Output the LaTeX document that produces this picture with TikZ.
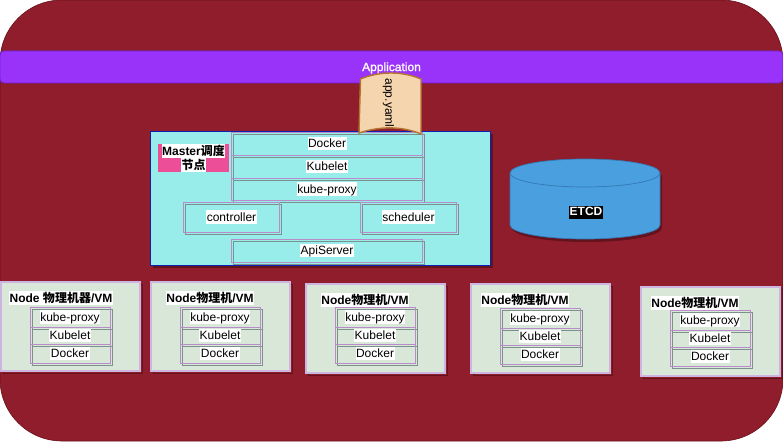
\documentclass[tikz,border=0pt]{standalone}
\usepackage{fontspec}
\setmainfont{Liberation Sans}
\newfontfamily\cjk{Noto Sans CJK SC}
\newfontfamily\heavyfont{Liberation Sans}[FakeBold=1.2]
\usepackage{tikz}
\usetikzlibrary{positioning, calc}
\definecolor{wine}{RGB}{143,29,43}
\definecolor{wineedge}{RGB}{106,16,24}
\definecolor{winedark}{RGB}{100,18,28}
\definecolor{violetbar}{RGB}{153,51,250}
\definecolor{violetedge}{RGB}{106,34,208}
\definecolor{paper}{RGB}{245,213,174}
\definecolor{paperedge}{RGB}{181,117,47}
\definecolor{mastercyan}{RGB}{152,236,234}
\definecolor{masteredge}{RGB}{16,32,176}
\definecolor{rose}{RGB}{236,79,152}
\definecolor{etcdblue}{RGB}{74,159,223}
\definecolor{etcdedge}{RGB}{52,120,180}
\definecolor{nodegreen}{RGB}{217,231,216}
\definecolor{framepurple}{RGB}{184,140,200}
\definecolor{frameouter}{RGB}{205,180,225}
\definecolor{framegray}{RGB}{125,145,140}

\begin{document}
\begin{tikzpicture}[x=1pt, y=-1pt, node distance=0pt,
    every node/.style={font=\fontsize{12}{14}\selectfont, inner sep=0pt, outer sep=0pt},
    lab/.style={fill=white, inner xsep=0.5pt, text height=11pt, text depth=2.5pt},
    boldlab/.style={lab, font=\fontsize{12}{14}\selectfont\bfseries},
    framebox/.style 2 args={draw=framepurple, line width=0.9pt, 
      minimum width=#1, minimum height=#2, 
      preaction={draw=framegray, line width=0.9pt, 
        transform canvas={xshift=2pt, yshift=-2pt}}},
    hostbox/.style={draw=frameouter, line width=1.2pt, fill=nodegreen, anchor=north west, 
      minimum width=139pt, minimum height=89pt, 
      preaction={draw=winedark, line width=1pt, 
        transform canvas={xshift=2.5pt, yshift=-2.5pt}}},
    rowa/.style={framebox={80pt}{20pt}},
    rowb/.style={framebox={80pt}{17pt}},
    rowc/.style={framebox={80pt}{19pt}}]
  \useasboundingbox (0,0) rectangle (783,441);

  % BACKGROUND

  \node [fill=wine, draw=wineedge, line width=0.6pt, rounded corners=62pt, 
    minimum width=783pt, minimum height=441pt, anchor=north west] (panel) at (0,0) {};

  \node [fill=violetbar, draw=violetedge, line width=0.8pt, rounded corners=4pt, 
    minimum width=783pt, minimum height=32pt, anchor=north west] (appbar) at (0,51) {};
  \node [text=white, font=\fontsize{12}{14}\selectfont\heavyfont] (apptitle) at (391.5,68) {Application};

  % MASTER

  \node [fill=mastercyan, draw=masteredge, line width=1pt, anchor=north west, 
    minimum width=340pt, minimum height=134pt, 
    preaction={fill=winedark, transform canvas={xshift=2.5pt, yshift=-2.5pt}}] 
    (master) at (150.5,131.5) {};

  \node [fill=rose, minimum width=71pt, minimum height=28pt, anchor=north west] 
    (mastertag) at (158,144) {};
  \node [boldlab] (mastertitle) at (193.5,151) {Master{\cjk 调度}};
  \node [boldlab] (mastersub) at (193.5,165) {{\cjk 节点}};

  \node [framebox={191pt}{23pt}, anchor=north west, label={[lab]center:Docker}] 
    (mdocker) at (231.5,132) {};
  \node [framebox={191pt}{23pt}, below=of mdocker, label={[lab]center:Kubelet}] (mkubelet) {};
  \node [framebox={191pt}{22pt}, below=of mkubelet, label={[lab]center:kube-proxy}] (mproxy) {};

  \node [framebox={96pt}{30pt}, anchor=north west, label={[lab]center:controller}] 
    (controller) at (183.5,202) {};
  \node [framebox={96pt}{30pt}, anchor=north west, label={[lab]center:scheduler}] 
    (scheduler) at (360.5,202) {};
  \node [framebox={191pt}{23pt}, anchor=north west, label={[lab]center:ApiServer}] 
    (apiserver) at (231.5,239) {};

  % APP.YAML

  \draw [fill=paper, draw=paperedge, line width=1.4pt] (360.5,79) 
    .. controls (380,71) and (402,71) .. (421,79) -- (421,134) 
    .. controls (402,126) and (380,126) .. (359,133) -- cycle;
  \node [rotate=-90] (appyaml) at (388.5,103) {app.yaml};

  % ETCD

  \fill [winedark] (512,176) -- (512,228) arc[start angle=180, end angle=0, x radius=75, y radius=14] 
    -- (662,176) arc[start angle=0, end angle=-180, x radius=75, y radius=14] -- cycle;
  \draw [fill=etcdblue, draw=etcdedge, line width=0.7pt] (510,173) -- (510,225) 
    arc[start angle=180, end angle=0, x radius=75, y radius=14] -- (660,173) 
    arc[start angle=0, end angle=-180, x radius=75, y radius=14] -- cycle;
  \draw [draw=etcdedge, line width=0.7pt] (510,173) 
    arc[start angle=180, end angle=0, x radius=75, y radius=14];
  \node [fill=black, text=white, inner xsep=0.5pt, text height=10pt, text depth=3pt, 
    font=\fontsize{12}{14}\selectfont\bfseries] (etcdtitle) at (586,212) {ETCD};

  % NODES

  \node [hostbox] (nodea) at (1,282) {};
  \node [boldlab] (nodeatitle) at (61,298) {Node {\cjk 物理机器}/VM};
  \node [rowa, anchor=north west, label={[lab]center:kube-proxy}] (nodeaproxy) at (30,307) {};
  \node [rowb, below=of nodeaproxy, label={[lab]center:Kubelet}] (nodeakubelet) {};
  \node [rowc, below=of nodeakubelet, label={[lab]center:Docker}] (nodeadocker) {};

  \node [hostbox] (nodeb) at (151,282) {};
  \node [boldlab] (nodebtitle) at (210,298) {Node{\cjk 物理机}/VM};
  \node [rowa, anchor=north west, label={[lab]center:kube-proxy}] (nodebproxy) at (180,307) {};
  \node [rowb, below=of nodebproxy, label={[lab]center:Kubelet}] (nodebkubelet) {};
  \node [rowc, below=of nodebkubelet, label={[lab]center:Docker}] (nodebdocker) {};

  \node [hostbox] (nodec) at (306,284) {};
  \node [boldlab] (nodectitle) at (365,300) {Node{\cjk 物理机}/VM};
  \node [rowa, anchor=north west, label={[lab]center:kube-proxy}] (nodecproxy) at (335,307) {};
  \node [rowb, below=of nodecproxy, label={[lab]center:Kubelet}] (nodeckubelet) {};
  \node [rowc, below=of nodeckubelet, label={[lab]center:Docker}] (nodecdocker) {};

  \node [hostbox] (noded) at (471,284) {};
  \node [boldlab] (nodedtitle) at (525,300) {Node{\cjk 物理机}/VM};
  \node [rowa, anchor=north west, label={[lab]center:kube-proxy}] (nodedproxy) at (500,308) {};
  \node [rowb, below=of nodedproxy, label={[lab]center:Kubelet}] (nodedkubelet) {};
  \node [rowc, below=of nodedkubelet, label={[lab]center:Docker}] (nodeddocker) {};

  \node [hostbox] (nodee) at (641,287) {};
  \node [boldlab] (nodeetitle) at (695,303) {Node{\cjk 物理机}/VM};
  \node [rowa, anchor=north west, label={[lab]center:kube-proxy}] (nodeeproxy) at (670,310) {};
  \node [rowb, below=of nodeeproxy, label={[lab]center:Kubelet}] (nodeekubelet) {};
  \node [rowc, below=of nodeekubelet, label={[lab]center:Docker}] (nodeedocker) {};

\end{tikzpicture}
\end{document}
